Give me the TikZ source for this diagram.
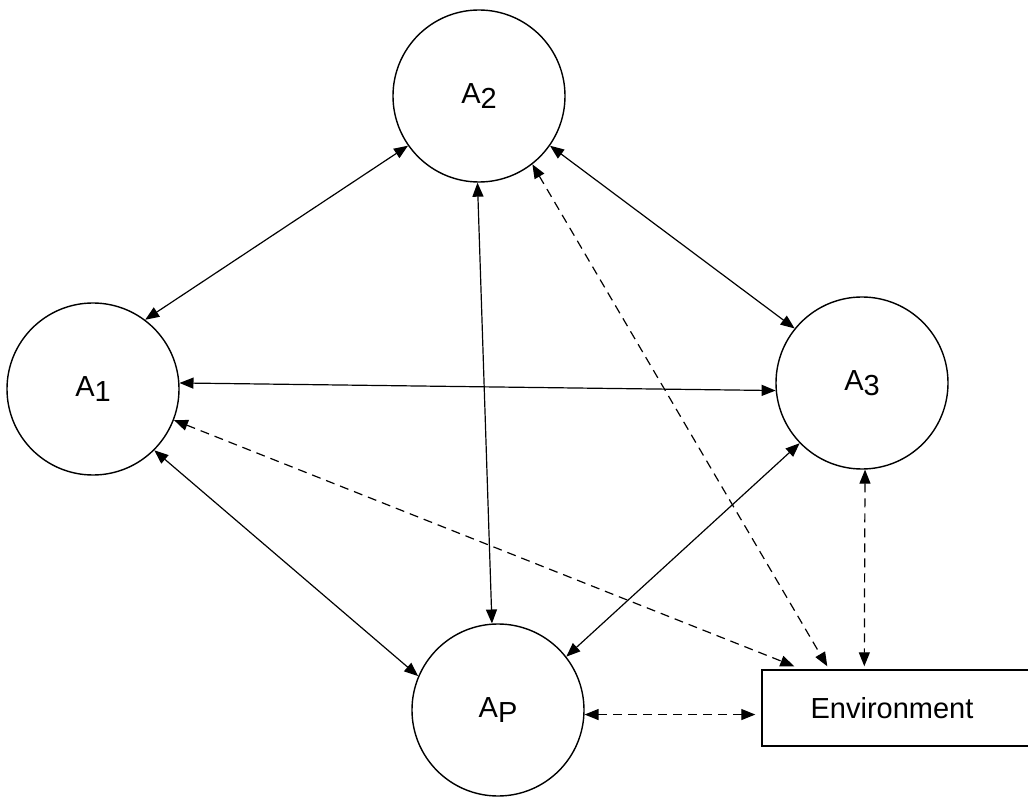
\documentclass[tikz,border=0pt]{standalone}
\usepackage{fontspec}
\setmainfont{Liberation Sans}
\usetikzlibrary{arrows.meta}
\newcommand{\agent}[2]{#1\raisebox{-5pt}{#2}}
\begin{document}
\begin{tikzpicture}[x=1pt,y=-1pt,
  agentnode/.style={circle,draw,line width=1.4pt,minimum size=172pt,inner sep=0pt,
    font=\fontsize{29}{34}\selectfont},
  envnode/.style={rectangle,draw,line width=1.4pt,minimum width=268pt,minimum height=76pt,
    inner sep=0pt,font=\fontsize{29}{34}\selectfont},
  link/.style={line width=1.2pt,{Triangle[length=14pt,width=11pt]}-{Triangle[length=14pt,width=11pt]}},
  envlink/.style={link,dash pattern=on 9pt off 6pt}]
  \clip (0,0) rectangle (1028,799);

  % agents and their environment
  \node[agentnode] (A2) at (479,96)  {\agent{A}{2}};
  \node[agentnode] (A1) at (93,389)  {\agent{A}{1}};
  \node[agentnode] (A3) at (862,383) {\agent{A}{3}};
  \node[agentnode] (AP) at (498,710) {\agent{A}{P}};
  \node[envnode]   (Env) at (896,708) {\hspace*{-8pt}Environment};

  % agent-to-agent communication
  \draw[link] (A1.53) -- (A2.215);
  \draw[link] (A2.-35) -- (A3.141);
  \draw[link] (A2.-91) -- (AP.94);
  \draw[link] (A1.4) -- (A3.185);
  \draw[link] (A1.-45) -- (AP.157);
  \draw[link] (A3.224) -- (AP.38);

  % agent-to-environment interaction
  \coordinate (envin) at (AP.-3 -| Env.west);
  \draw[envlink] (A1.-21) -- ([xshift=33pt,yshift=3pt]Env.north west);
  \draw[envlink] (A2.-52) -- ([xshift=66pt,yshift=3pt]Env.north west);
  \draw[envlink] (A3.-88) -- ([xshift=103pt,yshift=3pt]Env.north west);
  \draw[envlink] (AP.-3) -- ([xshift=-6pt]envin);
\end{tikzpicture}
\end{document}
